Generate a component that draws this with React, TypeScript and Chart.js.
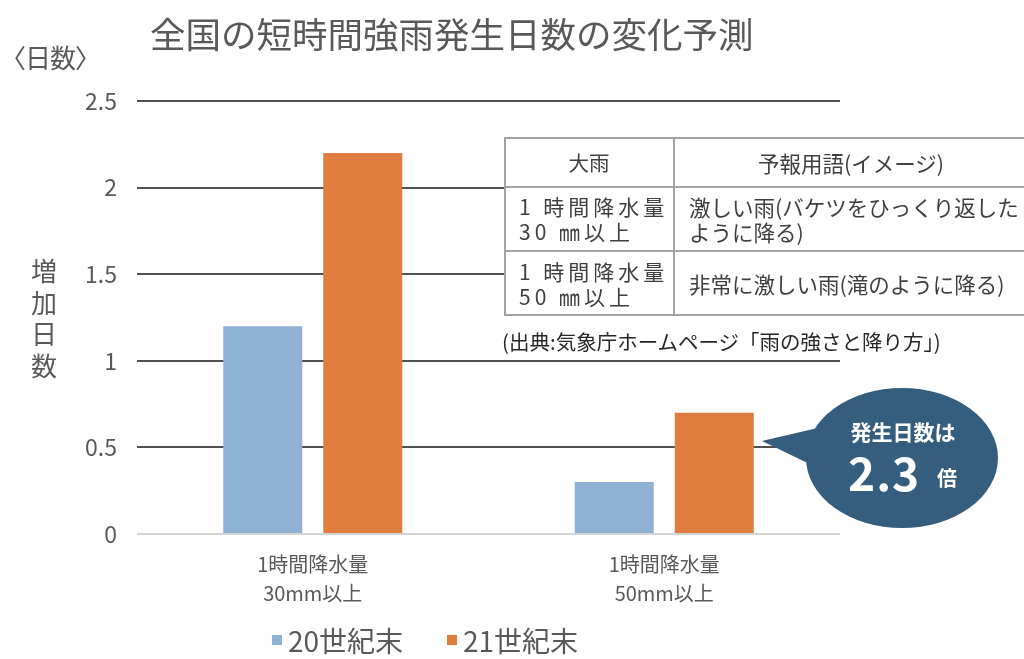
import React, { useEffect, useRef } from 'react';
import { Chart, registerables } from 'chart.js';

Chart.register(...registerables);

const FONT = '"Noto Sans CJK JP", "Noto Sans", sans-serif';

const titleText = '全国の短時間強雨発生日数の変化予測';
const unitText = '〈日数〉';
const yAxisTitle = ['増', '加', '日', '数'];
const categories = [
  ['1時間降水量', '30mm以上'],
  ['1時間降水量', '50mm以上'],
];
const seriesNames = ['20世紀末', '21世紀末'];
const series20 = [1.2, 0.3];
const series21 = [2.2, 0.7];
const seriesColors = ['#8EB1D4', '#DE7D3E'];
const yMin = 0;
const yMax = 2.5;
const yStep = 0.5;

const tableHeader = ['大雨', '予報用語(イメージ)'];
const tableRows = [
  { left: ['1 時間降水量', '30 ㎜以上'], right: ['激しい雨(バケツをひっくり返した', 'ように降る)'] },
  { left: ['1 時間降水量', '50 ㎜以上'], right: ['非常に激しい雨(滝のように降る)'] },
];
const sourceNote = '(出典:気象庁ホームページ「雨の強さと降り方」)';
const calloutLine1 = '発生日数は';
const calloutValue = '2.3';
const calloutUnit = '倍';

export default function App() {
  const ref = useRef<HTMLCanvasElement>(null);

  useEffect(() => {
    const chart = new Chart(ref.current!, {
      type: 'bar',
      data: {
        labels: categories,
        datasets: [
          {
            label: seriesNames[0],
            data: series20,
            backgroundColor: seriesColors[0],
            categoryPercentage: 0.569,
            barPercentage: 0.79,
          },
          {
            label: seriesNames[1],
            data: series21,
            backgroundColor: seriesColors[1],
            categoryPercentage: 0.569,
            barPercentage: 0.79,
          },
        ],
      },
      options: {
        animation: false,
        responsive: false,
        maintainAspectRatio: false,
        layout: { padding: { left: 0, right: 184, top: 101, bottom: 33 } },
        plugins: {
          legend: { display: false },
          tooltip: { enabled: false },
          title: { display: false },
        },
        scales: {
          x: {
            grid: { display: false, drawTicks: false },
            border: { display: false },
            ticks: {
              font: { family: FONT, size: 20, lineHeight: 1.45 },
              color: '#595959',
              padding: 16,
            },
            afterFit: (s: any) => {
              s.height = 92;
            },
          },
          y: {
            min: yMin,
            max: yMax,
            ticks: {
              stepSize: yStep,
              padding: 20,
              font: { family: FONT, size: 23 },
              color: '#595959',
              callback: (v: any) => String(Number(v)),
            },
            grid: {
              color: (ctx: any) => (ctx.tick && ctx.tick.value === 0 ? '#d4d4d4' : '#505050'),
              lineWidth: 2,
              drawTicks: false,
            },
            border: { display: false },
            afterFit: (s: any) => {
              s.width = 137;
            },
          },
        },
      },
    });
    return () => chart.destroy();
  }, []);

  const abs = (o: React.CSSProperties): React.CSSProperties => ({ position: 'absolute', ...o });
  const borderC = '2px solid #a3a3a3';

  return (
    <div
      style={{
        position: 'fixed',
        left: 0,
        top: 0,
        width: 1024,
        height: 659,
        overflow: 'hidden',
        background: '#fff',
        fontFamily: FONT,
      }}
    >
      <canvas ref={ref} width={1024} height={659} style={{ position: 'absolute', left: 0, top: 0, display: 'block' }} />

      <div style={abs({ left: 150, top: 15, fontSize: 35.5, lineHeight: '36px', color: '#595959', whiteSpace: 'nowrap' })}>
        {titleText}
      </div>
      <div style={abs({ left: 0, top: 43, fontSize: 26, lineHeight: '28px', color: '#595959', whiteSpace: 'nowrap', letterSpacing: -1 })}>
        {unitText}
      </div>
      <div style={abs({ left: 31, top: 254, width: 26, fontSize: 26, lineHeight: '31.7px', color: '#595959', textAlign: 'center' })}>
        {yAxisTitle.map((c, i) => (
          <div key={i}>{c}</div>
        ))}
      </div>

      {/* table */}
      <div style={abs({ left: 504, top: 137, width: 524, height: 179, background: '#fff', color: '#404040' })}>
        <div style={abs({ left: 0, top: 0, width: 524, height: 179, border: borderC, boxSizing: 'border-box' })} />
        <div style={abs({ left: 0, top: 49, width: 524, height: 0, borderTop: borderC })} />
        <div style={abs({ left: 0, top: 113, width: 524, height: 0, borderTop: borderC })} />
        <div style={abs({ left: 169, top: 0, width: 0, height: 179, borderLeft: borderC })} />
        <div style={abs({ left: 0, top: 0, width: 170, height: 50, display: 'flex', alignItems: 'center', justifyContent: 'center', fontSize: 20.5 })}>
          {tableHeader[0]}
        </div>
        <div style={abs({ left: 170, top: 0, width: 354, height: 50, display: 'flex', alignItems: 'center', justifyContent: 'center', fontSize: 21.5 })}>
          {tableHeader[1]}
        </div>
        {tableRows.map((r, i) => {
          const top = i === 0 ? 50 : 114;
          const h = i === 0 ? 63 : 65;
          return (
            <React.Fragment key={i}>
              <div style={abs({ left: 15, top, height: h, display: 'flex', flexDirection: 'column', justifyContent: 'center', fontSize: 21, lineHeight: '25px', letterSpacing: 4, whiteSpace: 'nowrap' })}>
                {r.left.map((t, j) => (
                  <div key={j}>{t}</div>
                ))}
              </div>
              <div style={abs({ left: 185, top, height: h, display: 'flex', flexDirection: 'column', justifyContent: 'center', fontSize: 21.5, lineHeight: '25px', whiteSpace: 'nowrap' })}>
                {r.right.map((t, j) => (
                  <div key={j}>{t}</div>
                ))}
              </div>
            </React.Fragment>
          );
        })}
      </div>
      <div style={abs({ left: 502, top: 330, fontSize: 20.5, lineHeight: '22px', color: '#262626', whiteSpace: 'nowrap' })}>
        {sourceNote}
      </div>

      {/* callout */}
      <svg width={1024} height={659} style={{ position: 'absolute', left: 0, top: 0 }}>
        <path d="M 762 441 L 822 427 L 818 468 Z" fill="#355D7E" />
        <ellipse cx={902} cy={458} rx={96} ry={70} fill="#355D7E" />
      </svg>
      <div style={abs({ left: 803, top: 420, width: 200, textAlign: 'center', fontSize: 21, lineHeight: '22px', fontWeight: 700, color: '#fff' })}>
        {calloutLine1}
      </div>
      <div style={abs({ left: 848, top: 446, fontSize: 46, lineHeight: '50px', fontWeight: 700, color: '#fff', letterSpacing: 1, whiteSpace: 'nowrap' })}>
        {calloutValue}
      </div>
      <div style={abs({ left: 937, top: 467, fontSize: 20, lineHeight: '22px', fontWeight: 700, color: '#fff' })}>
        {calloutUnit}
      </div>

      {/* legend */}
      <div style={abs({ left: 272, top: 635, width: 10, height: 10, background: seriesColors[0] })} />
      <div style={abs({ left: 288, top: 625, fontSize: 28, lineHeight: '30px', color: '#595959', whiteSpace: 'nowrap' })}>
        {seriesNames[0]}
      </div>
      <div style={abs({ left: 447, top: 635, width: 10, height: 10, background: seriesColors[1] })} />
      <div style={abs({ left: 463, top: 625, fontSize: 28, lineHeight: '30px', color: '#595959', whiteSpace: 'nowrap' })}>
        {seriesNames[1]}
      </div>
    </div>
  );
}
